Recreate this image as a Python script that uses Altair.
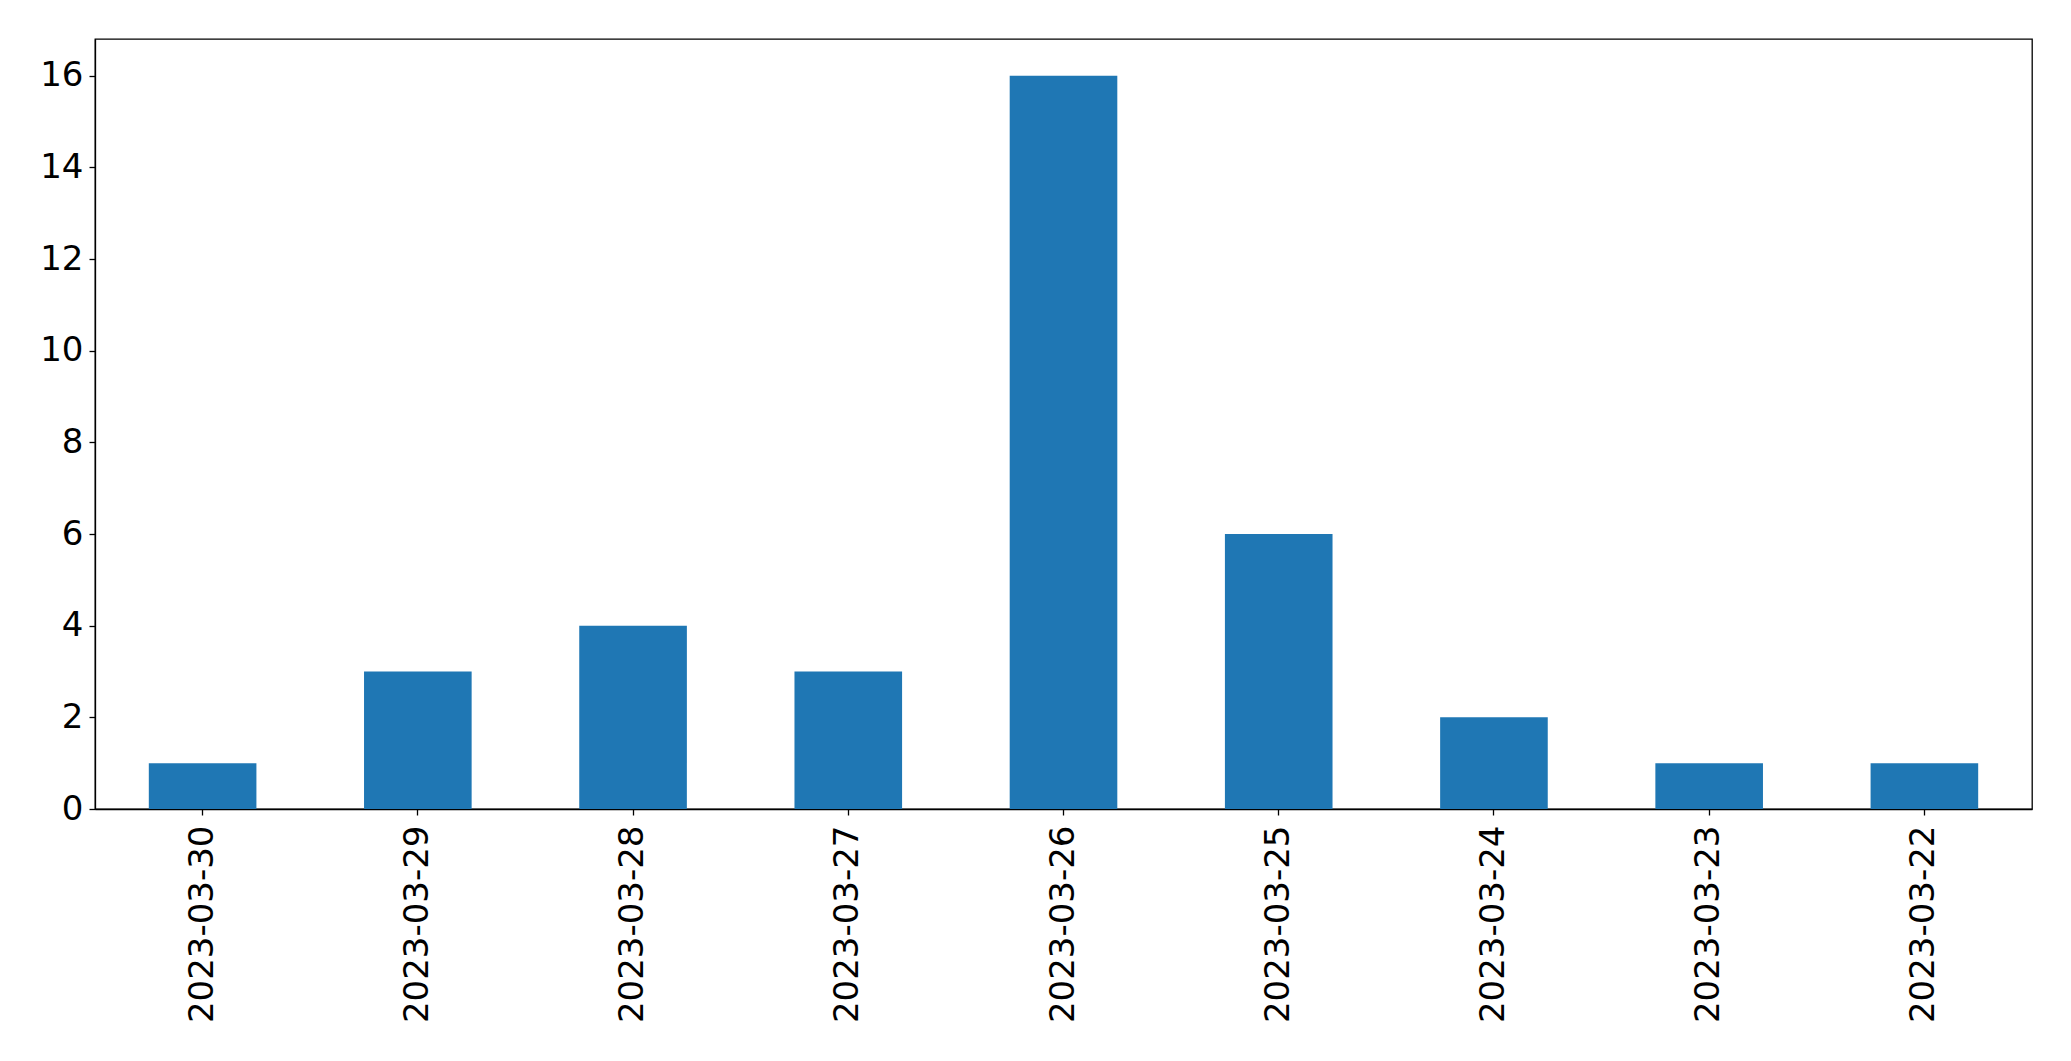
import altair as alt
import pandas as pd

dates = ["2023-03-30", "2023-03-29", "2023-03-28", "2023-03-27", "2023-03-26",
         "2023-03-25", "2023-03-24", "2023-03-23", "2023-03-22"]
counts = [1, 3, 4, 3, 16, 6, 2, 1, 1]
y_ticks = [0, 2, 4, 6, 8, 10, 12, 14, 16]

df = pd.DataFrame({"date": dates, "count": counts})

chart = alt.Chart(df).mark_bar(color="#1f77b4").encode(
    x=alt.X("date:N", sort=None, title=None,
            scale=alt.Scale(paddingInner=0.5, paddingOuter=0.25),
            axis=alt.Axis(labelAngle=270, labelFontSize=34, labelFont="DejaVu Sans",
                          labelColor="black", tickColor="black", tickSize=6,
                          tickWidth=1.3, domainColor="black", domainWidth=1.3,
                          labelPadding=10, labelLimit=0, grid=False)),
    y=alt.Y("count:Q", title=None,
            scale=alt.Scale(domain=[0, 16.8], nice=False, zero=True),
            axis=alt.Axis(values=y_ticks, labelFontSize=34, labelFont="DejaVu Sans",
                          labelColor="black", tickColor="black", tickSize=6,
                          tickWidth=1.3, domainColor="black", domainWidth=1.3,
                          labelPadding=6, grid=False)),
).properties(
    width=1937, height=770,
    autosize=alt.AutoSizeParams(type="none"),
    padding={"left": 87, "top": 31, "right": 20, "bottom": 230},
).configure_view(stroke="black", strokeWidth=1.3)

chart.save("out.html", embed_options={"renderer": "svg", "actions": False})
